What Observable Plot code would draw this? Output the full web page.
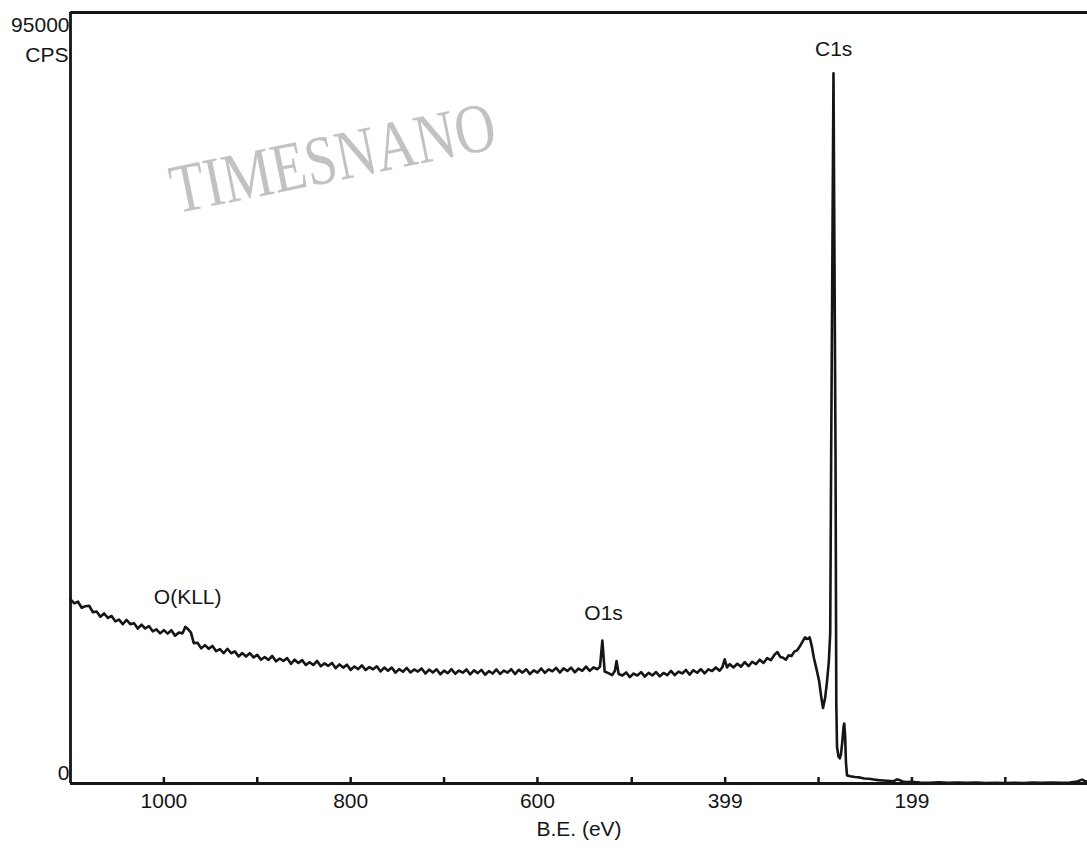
<!DOCTYPE html>
<html><head><meta charset="utf-8">
<script src="https://cdn.jsdelivr.net/npm/d3@7"></script>
<script src="https://cdn.jsdelivr.net/npm/@observablehq/plot@0.6"></script>
<style>
body{margin:0;background:#fff;}
#chart{width:1087px;height:850px;overflow:hidden;}
</style></head><body><div id="chart"></div>
<script>
// Binding energy (eV) and intensity (CPS)
const energy = [
 1100,1096,1092,1088,1084,1080,1076,1072,1068,1064,
 1060,1056,1052,1048,1044,1040,1036,1032,1028,1024,
 1020,1016,1012,1008,1004,1000,996,992,988,984,
 980,977,974,971,968,964,960,956,952,948,
 944,940,936,932,928,924,920,916,912,908,
 904,900,896,892,888,884,880,876,872,868,
 864,860,856,852,848,844,840,836,832,828,
 824,820,816,812,808,804,800,796,792,788,
 784,780,776,772,768,764,760,756,752,748,
 744,740,736,732,728,724,720,716,712,708,
 704,700,696,692,688,684,680,676,672,668,
 664,660,656,652,648,644,640,636,632,628,
 624,620,616,612,608,604,600,596,592,588,
 584,580,576,572,568,564,560,556,552,548,
 544,540,536,533,530.5,528,524,520,517,515.3,
 513,509,505,501,497,493,489,485,481,477,
 473,469,465,461,457,453,449,445,441,437,
 433,429,425,421,417,413,409,405,402,399.5,
 397,394,390,386,382,378,374,370,366,362,
 358,354,350,346,343,340,337,334,331,328,
 325,322,319,316,313.5,311,308.5,306,304,301,
 298.5,296,294.2,292,290,288,286.5,285.5,283,280.8,
 280,279.2,277.6,276.3,275,273.5,272.2,271.5,270.6,269.6,
 268.5,265,260,255,250,245,240,235,230,225,
 220,217,215,212,209,205,200,190,180,170,
 160,150,140,130,120,110,100,90,80,70,
 60,50,40,30,22,17,14,11
];
const counts = [
 22700,22200,22400,21650,21850,21900,21100,21200,20550,20950,
 20400,20640,19980,20190,19620,20150,19630,19760,19090,19570,
 19100,19400,18750,19000,18500,18900,18470,18890,18200,18600,
 18500,19300,19000,18600,17300,17350,16650,17050,16600,16950,
 16300,16550,16050,16600,16050,16280,15650,16070,15640,16060,
 15530,15850,15240,15580,15220,15710,15050,15400,15100,15450,
 14750,15250,14850,15200,14600,14950,14600,15100,14450,14800,
 14500,14850,14210,14670,14280,14640,14000,14420,14090,14560,
 13980,14350,14070,14440,13810,14280,13900,14280,13660,14090,
 13770,14250,13680,14060,13790,14170,13550,14040,13680,14070,
 13460,13900,13590,14080,13520,13910,13650,14050,13450,13950,
 13600,14000,13400,13850,13550,14050,13500,13910,13670,14080,
 13490,14000,13660,14070,13480,13940,13650,14170,13640,14060,
 13830,14250,13670,14190,13860,14280,13700,14170,13890,14410,
 13880,14300,14080,14400,17600,13800,13600,13350,13900,15100,
 13500,13300,13680,13110,13550,13310,13720,13180,13640,13310,
 13730,13200,13620,13340,13870,13350,13780,13560,13990,13420,
 13960,13650,14090,13580,14070,13860,14300,13900,14300,15300,
 14300,14700,14300,14750,14400,14950,14470,15000,14720,15250,
 14850,15450,15200,15900,16200,15600,15500,15250,15800,15700,
 16250,16400,16900,17500,18000,17800,18000,16800,15500,14000,
 12700,10600,9300,10500,12500,15000,18500,40000,87500,40000,
 10000,4500,3300,3100,3600,5200,7000,7400,6000,2500,
 1000,900,800,750,620,580,500,420,370,330,
 260,380,500,420,250,180,200,120,100,150,
 90,130,80,110,70,100,60,90,70,110,
 80,120,90,130,250,480,320,200
];
const majorTicks = [1000, 800, 600, 399, 199];
const minorTicks = [900, 700, 499, 299, 99];
const peakNames = ["C1s", "O1s", "O(KLL)"];
const peakLabelEnergy = [282.8, 529.2, 974.5];
const peakLabelCounts = [90500, 21000, 22900];
const watermarkText = "TIMESNANO";
const watermarkEnergy = 819;
const watermarkCounts = 77000;
const xDomain = [1100, 11];
const yMax = 95000;

const spectrum = energy.map((e, i) => ({e, c: counts[i]}));
const peaks = peakNames.map((name, i) => ({name, e: peakLabelEnergy[i], c: peakLabelCounts[i]}));
const ink = "#151515";
const font = "'Liberation Sans', Arial, sans-serif";

const plot = Plot.plot({
  width: 1087, height: 850,
  marginLeft: 70, marginRight: 0, marginTop: 12, marginBottom: 67,
  style: {fontFamily: font, background: "white", color: ink},
  x: {domain: xDomain, label: null},
  y: {domain: [0, yMax], label: null, axis: null},
  marks: [
    Plot.text([{t: watermarkText, e: watermarkEnergy, c: watermarkCounts}], {
      x: "e", y: "c", text: "t", rotate: -11.5, fontSize: 70,
      fontFamily: "'Liberation Serif', 'Times New Roman', serif", fill: "#c2c2c2"
    }),
    Plot.line(spectrum, {x: "e", y: "c", stroke: ink, strokeWidth: 2.6, strokeLinejoin: "round"}),
    Plot.ruleX([...majorTicks, ...minorTicks], {stroke: ink, strokeWidth: 2.5, insetTop: 765}),
    Plot.axisX({ticks: majorTicks, tickSize: 0, tickPadding: 10, fontSize: 21, label: null, tickFormat: d => String(d)}),
    Plot.ruleX([xDomain[0]], {stroke: ink, strokeWidth: 2.8}),
    Plot.ruleY([0, yMax], {stroke: ink, strokeWidth: 2.8}),
    Plot.text([yMax], {y: d => d, frameAnchor: "left", text: d => String(d), textAnchor: "end", dx: -1, dy: 13, fontSize: 21, fill: ink}),
    Plot.text([yMax], {y: d => d, frameAnchor: "left", text: () => "CPS", textAnchor: "end", dx: -2, dy: 43, fontSize: 21, fill: ink}),
    Plot.text([0], {y: d => d, frameAnchor: "left", text: d => String(d), textAnchor: "end", dx: -1, dy: -10, fontSize: 21, fill: ink}),
    Plot.text(peaks, {x: "e", y: "c", text: "name", fontSize: 21, fill: ink}),
    Plot.text(["B.E. (eV)"], {frameAnchor: "bottom", text: d => d, dy: 52, fontSize: 21, fill: ink})
  ]
});
document.getElementById("chart").appendChild(plot);
d3.select(plot).selectAll("text").filter(function() { return this.textContent === watermarkText; })
  .attr("textLength", 330).attr("lengthAdjust", "spacingAndGlyphs");
</script>
</body></html>
